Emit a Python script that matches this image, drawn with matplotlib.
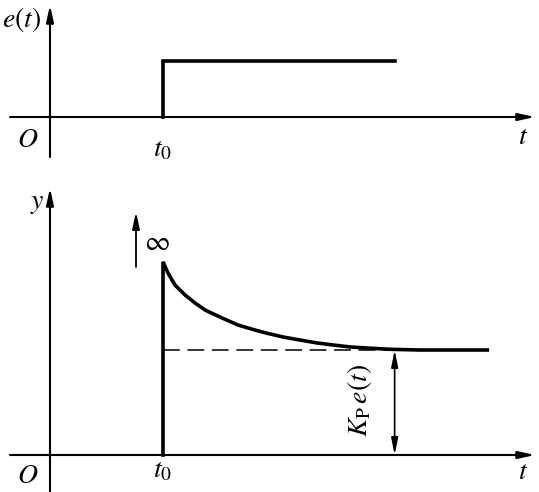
import matplotlib.pyplot as plt

plt.rcParams['mathtext.fontset'] = 'stix'
plt.rcParams['font.family'] = 'STIXGeneral'

# time axis: t0 = 1, origin at 0
t0 = 1.0
t_step_end = 3.05
e_level = 1.0

# response after the step, steady value = Kp*e = 1
t_resp = [1.00, 1.044, 1.106, 1.195, 1.283, 1.372, 1.522, 1.664, 1.814, 1.920,
          2.062, 2.212, 2.363, 2.504, 2.655, 2.805, 2.947, 3.035, 3.27, 3.87]
y_resp = [1.84, 1.733, 1.619, 1.524, 1.448, 1.381, 1.305, 1.238, 1.190, 1.160,
          1.124, 1.095, 1.067, 1.048, 1.029, 1.019, 1.010, 1.006, 1.0, 1.0]
y_steady = 1.0
t_mark = 3.05

W, H = 539, 492
fig = plt.figure(figsize=(W / 100, H / 100), dpi=100)

# pixel scale: 113 px per t unit, origin at x=50
xlim = (-50 / 113, (W - 50) / 113)

ax1 = fig.add_axes([0, 1 - 165 / H, 1, 165 / H])
ax1.set_xlim(*xlim)
ax1.set_ylim((117 - 165) / 56, 117 / 56)
ax2 = fig.add_axes([0, 0, 1, (H - 180) / H])
ax2.set_xlim(*xlim)
ax2.set_ylim((455 - H) / 105, (455 - 180) / 105)
for ax in (ax1, ax2):
    ax.axis('off')

axis_arrow = dict(arrowstyle='-|>,head_length=1.0,head_width=0.22', lw=1.5,
                  color='black', shrinkA=0, shrinkB=0)
fs = 20

# top panel: e(t)
ax1.annotate('', xy=(485 / 113, 0), xytext=(-40 / 113, 0), arrowprops=axis_arrow)
ax1.annotate('', xy=(0, 112 / 56), xytext=(0, -40 / 56), arrowprops=axis_arrow)
ax1.plot([t0, t0, t_step_end], [0, e_level, e_level], color='black', lw=2.6,
         solid_joinstyle='miter')
ax1.text(-28 / 113, 98 / 56, r'$e(t)$', fontsize=fs, ha='center', va='center')
ax1.text(-22 / 113, -23 / 56, r'$O$', fontsize=fs, ha='center', va='center')
ax1.text(t0, -33 / 56, r'$t_0$', fontsize=fs, ha='center', va='center')
ax1.text(473 / 113, -20 / 56, r'$t$', fontsize=fs, ha='center', va='center')

# bottom panel: y(t)
ax2.annotate('', xy=(485 / 113, 0), xytext=(-40 / 113, 0), arrowprops=axis_arrow)
ax2.annotate('', xy=(0, 267 / 105), xytext=(0, -40 / 105), arrowprops=axis_arrow)
ax2.plot([t0] + t_resp, [0] + y_resp, color='black', lw=2.6,
         solid_joinstyle='miter')
ax2.plot([t0, t_mark], [y_steady, y_steady], color='black', lw=1.1,
         dashes=(11, 5))
ax2.annotate('', xy=(t_mark, y_steady), xytext=(t_mark, 0),
             arrowprops=dict(arrowstyle='<|-|>,head_length=1.0,head_width=0.2',
                             lw=1.2, color='black', shrinkA=0, shrinkB=0))
ax2.annotate('', xy=(86 / 113, 243 / 105), xytext=(86 / 113, 188 / 105),
             arrowprops=dict(arrowstyle='-|>,head_length=1.0,head_width=0.22',
                             lw=1.3, color='black', shrinkA=0, shrinkB=0))
ax2.text(107 / 113, 212 / 105, r'$\infty$', fontsize=fs, ha='center', va='center')
ax2.text(310 / 113, 55 / 105, r'$K_\mathrm{P}\,e(t)$', fontsize=fs,
         rotation=90, ha='center', va='center')
ax2.text(-13 / 113, 252 / 105, r'$y$', fontsize=fs, ha='center', va='center')
ax2.text(-22 / 113, -21 / 105, r'$O$', fontsize=fs, ha='center', va='center')
ax2.text(t0, -16 / 105, r'$t_0$', fontsize=fs, ha='center', va='center')
ax2.text(473 / 113, -17 / 105, r'$t$', fontsize=fs, ha='center', va='center')

fig.savefig('out.png', dpi=100)
